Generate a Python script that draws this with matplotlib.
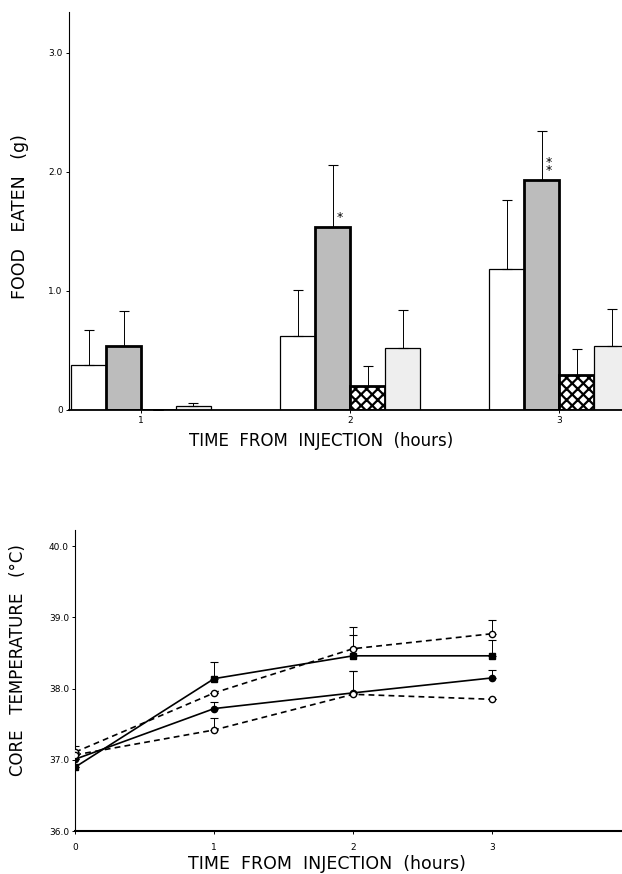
import matplotlib
matplotlib.use("Agg")
import matplotlib.pyplot as plt
import numpy as np

plt.rcParams['font.family'] = ['DejaVu Sans']
plt.rcParams['hatch.linewidth'] = 1.6

# ---------------- data: food eaten ----------------
hours = [1, 2, 3]
food_g1 = [0.38, 0.62, 1.18]
food_g1_err = [0.29, 0.39, 0.58]
food_g2 = [0.54, 1.54, 1.93]
food_g2_err = [0.29, 0.52, 0.41]
food_g3 = [0.0, 0.20, 0.29]
food_g3_err = [0.0, 0.17, 0.22]
food_g4 = [0.03, 0.52, 0.54]
food_g4_err = [0.03, 0.32, 0.31]
food_ticks = [0, 1.0, 2.0, 3.0]
food_ticklabels = ["0", "1.0", "2.0", "3.0"]

# ---------------- data: core temperature ----------------
t_hours = [0, 1, 2, 3]
temp_solid_a = [36.90, 38.14, 38.46, 38.46]
temp_solid_a_err = [0.0, 0.23, 0.29, 0.22]
temp_solid_b = [37.01, 37.72, 37.94, 38.15]
temp_solid_b_err = [0.0, 0.09, 0.31, 0.11]
temp_dash_a = [37.11, 37.94, 38.56, 38.77]
temp_dash_a_err = [0.09, 0.0, 0.31, 0.19]
temp_dash_b = [37.07, 37.42, 37.92, 37.85]
temp_dash_b_err = [0.0, 0.17, 0.33, 0.0]
temp_ticks = [36.0, 37.0, 38.0, 39.0, 40.0]
temp_ticklabels = ["36.0", "37.0", "38.0", "39.0", "40.0"]

fig = plt.figure(figsize=(6.22, 8.74), dpi=100)

# ================= top panel =================
ax1 = fig.add_axes([0.111, 0.531, 0.889, 0.455])
w = 0.167
offs = [-1.5 * w, -0.5 * w, 0.5 * w, 1.5 * w]
x = np.array(hours, dtype=float)

series = [
    (food_g1, food_g1_err, dict(facecolor='white', edgecolor='black', linewidth=0.9, hatch=None)),
    (food_g2, food_g2_err, dict(facecolor='#bcbcbc', edgecolor='black', linewidth=2.0, hatch=None)),
    (food_g3, food_g3_err, dict(facecolor='white', edgecolor='black', linewidth=2.0, hatch='xxx')),
    (food_g4, food_g4_err, dict(facecolor='#eeeeee', edgecolor='black', linewidth=0.9, hatch=None)),
]
for (vals, errs, st), o in zip(series, offs):
    ax1.bar(x + o, vals, width=w, zorder=2, **st)
    ax1.errorbar(x + o, vals, yerr=[np.zeros(len(errs)), errs], fmt='none',
                 ecolor='black', elinewidth=0.7, capsize=3.5, capthick=0.8, zorder=3)

# significance stars
ax1.annotate('*', (x[1] + offs[1], food_g2[1]), xytext=(5, 2), textcoords='offset points',
             ha='center', va='bottom', fontsize=9)
ax1.annotate('*\n*', (x[2] + offs[1], food_g2[2]), xytext=(5, 2), textcoords='offset points',
             ha='center', va='bottom', fontsize=9, linespacing=0.55)

ax1.set_xlim(0.656, 3.30)
ax1.set_ylim(0, 3.34)
ax1.set_yticks(food_ticks)
ax1.set_yticklabels(food_ticklabels, fontsize=6.5)
ax1.set_xticks(hours)
ax1.set_xticklabels([str(h) for h in hours], fontsize=6.5)
ax1.tick_params(axis='both', direction='out', length=2.5, width=0.7, pad=2)
for s in ['top', 'right']:
    ax1.spines[s].set_visible(False)
ax1.spines['left'].set_linewidth(0.8)
ax1.spines['bottom'].set_linewidth(1.3)
ax1.set_xlabel('TIME  FROM  INJECTION  (hours)', fontsize=12)
ax1.xaxis.set_label_coords(0.456, -0.055)
ax1.set_ylabel('FOOD   EATEN   (g)', fontsize=12.5)
ax1.yaxis.set_label_coords(-0.072, 0.487)

# ================= bottom panel =================
ax2 = fig.add_axes([0.121, 0.049, 0.879, 0.345])
ax2.errorbar(t_hours, temp_solid_a, yerr=[np.zeros(4), temp_solid_a_err], color='black',
             linestyle='-', linewidth=1.2, marker='s', markersize=4.5, markerfacecolor='black',
             elinewidth=0.7, capsize=3, capthick=0.8, zorder=3)
ax2.errorbar(t_hours, temp_solid_b, yerr=[np.zeros(4), temp_solid_b_err], color='black',
             linestyle='-', linewidth=1.2, marker='o', markersize=4.5, markerfacecolor='black',
             elinewidth=0.7, capsize=3, capthick=0.8, zorder=3)
ax2.errorbar(t_hours, temp_dash_a, yerr=[np.zeros(4), temp_dash_a_err], color='black',
             linestyle=(0, (3.5, 2.5)), linewidth=1.2, marker='o', markersize=4.5,
             markerfacecolor='white', elinewidth=0.7, capsize=3, capthick=0.8, zorder=3)
ax2.errorbar(t_hours, temp_dash_b, yerr=[np.zeros(4), temp_dash_b_err], color='black',
             linestyle=(0, (3.5, 2.5)), linewidth=1.2, marker='o', markersize=4.5,
             markerfacecolor='white', elinewidth=0.7, capsize=3, capthick=0.8, zorder=3)

ax2.set_xlim(0, 3.935)
ax2.set_ylim(36.0, 40.23)
ax2.set_yticks(temp_ticks)
ax2.set_yticklabels(temp_ticklabels, fontsize=6.5)
ax2.set_xticks(t_hours)
ax2.set_xticklabels([str(h) for h in t_hours], fontsize=6.5)
ax2.tick_params(axis='y', direction='out', length=2.5, width=0.7, pad=2)
ax2.tick_params(axis='x', direction='out', length=2.5, width=0.7, pad=6)
for s in ['top', 'right']:
    ax2.spines[s].set_visible(False)
ax2.spines['left'].set_linewidth(0.8)
ax2.spines['bottom'].set_linewidth(1.5)
ax2.set_xlabel('TIME  FROM  INJECTION  (hours)', fontsize=12.5)
ax2.xaxis.set_label_coords(0.46, -0.078)
ax2.set_ylabel('CORE   TEMPERATURE   (°C)', fontsize=12)
ax2.yaxis.set_label_coords(-0.088, 0.568)

fig.savefig('out.png', dpi=100)
